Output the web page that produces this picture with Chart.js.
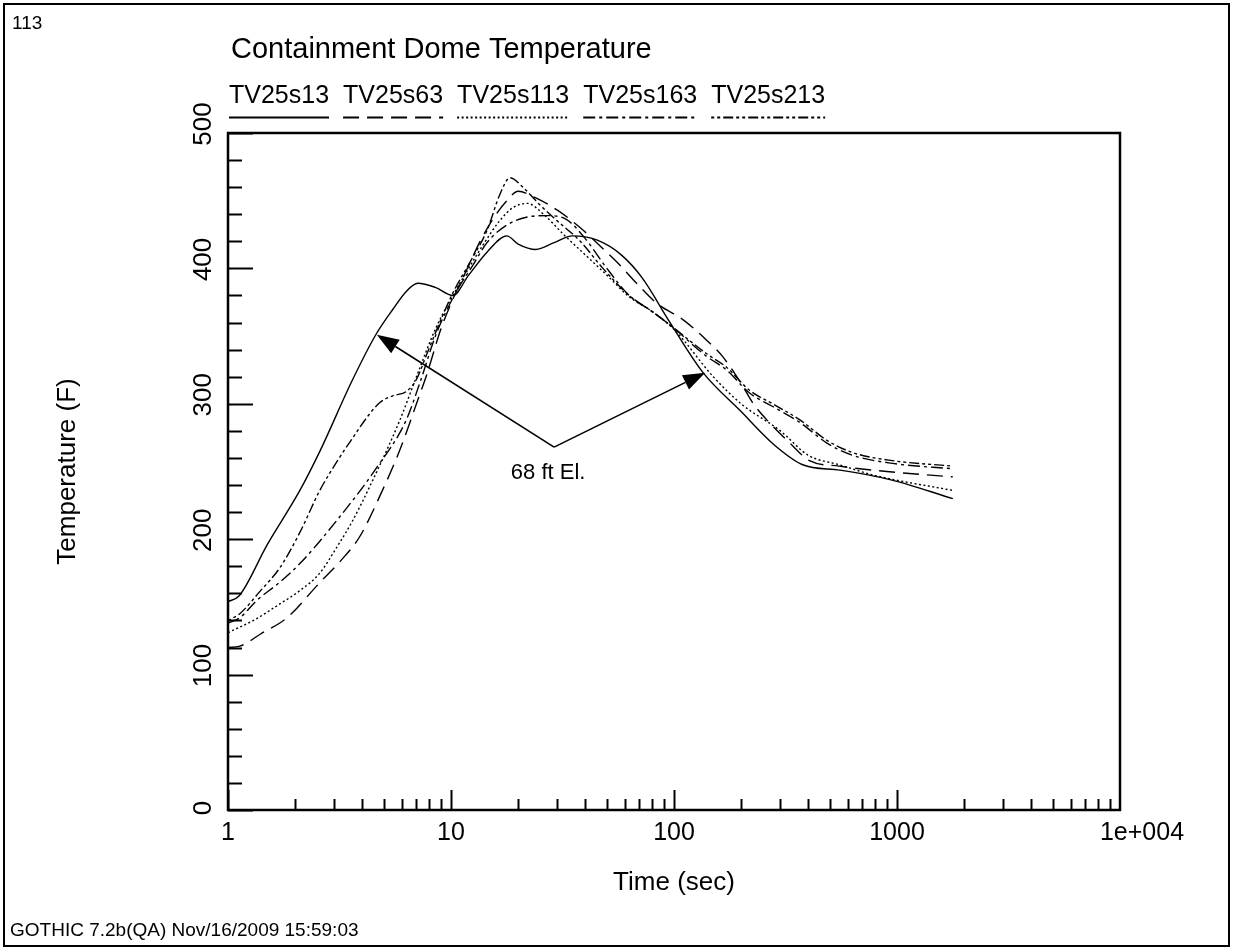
<!DOCTYPE html>
<html>
<head>
<meta charset="utf-8">
<script src="https://cdn.jsdelivr.net/npm/chart.js@4.4.1/dist/chart.umd.min.js"></script>
<style>
  html, body { margin: 0; padding: 0; background: #fff; }
  #wrap { width: 1233px; height: 950px; position: relative; }
</style>
</head>
<body>
<div id="wrap"><canvas id="domeChart" width="1233" height="950"></canvas></div>
<script>
// Containment dome temperature, 5 stations
const seriesNames = ['TV25s13', 'TV25s63', 'TV25s113', 'TV25s163', 'TV25s213'];

const s13Time = [1, 1.12, 1.5, 2.1, 2.6, 3.6, 4.6, 5.5, 6.3, 7.1, 8.5, 10.2, 12, 14.5, 17.8, 20, 24, 29, 35, 45, 58, 72, 96, 135, 198, 280, 378, 555, 931, 1780];
const s13Temp = [154, 158, 196, 236, 266, 317, 351, 370, 383, 389, 386, 380, 395, 412, 424, 418, 414, 419, 424, 421, 410, 393, 360, 323, 295, 270, 255, 251, 244, 230];

const s63Time = [1, 1.13, 1.4, 1.84, 2.58, 3.2, 3.9, 4.8, 5.9, 7.0, 7.8, 9, 10.5, 12, 13.5, 15.5, 17.8, 20, 24, 30, 38, 47, 56, 68, 84, 110, 140, 165, 200, 227, 268, 331, 405, 550, 900, 1780];
const s63Temp = [120, 121, 130, 142, 168, 184, 202, 232, 266, 300, 322, 355, 382, 402, 420, 437, 450, 457, 452, 443, 430, 416, 404, 389, 374, 362, 347, 335, 315, 300, 286, 271, 258, 254, 250, 246];

const s113Time = [1, 1.3, 1.7, 2.1, 2.58, 3.1, 3.63, 4.47, 5.9, 7, 8.5, 10.2, 12, 14, 16.5, 19, 22, 26, 32, 40, 50, 63, 80, 100, 150, 200, 300, 400, 550, 800, 1780];
const s113Temp = [131, 140, 152, 162, 175, 195, 214, 244, 288, 320, 355, 380, 400, 418, 435, 445, 448, 440, 425, 410, 395, 379, 368, 355, 320, 300, 280, 262, 255, 247, 236];

const s163Time = [1, 1.13, 1.35, 1.7, 2.1, 3.08, 4.65, 6.3, 7.3, 8.6, 10.5, 12.5, 14.5, 17.8, 22, 27, 33, 40, 50, 63, 80, 98, 140, 172, 218, 277, 368, 485, 632, 955, 1780];
const s163Temp = [138, 142, 155, 168, 182, 214, 253, 288, 317, 352, 382, 402, 419, 432, 438, 439, 436, 422, 400, 380, 368, 357, 335, 325, 308, 298, 286, 271, 262, 256, 252];

const s213Time = [1, 1.13, 1.4, 1.71, 2.1, 2.58, 3.1, 3.63, 4.2, 4.8, 5.5, 6.3, 7.0, 7.8, 9, 10.2, 12.5, 14.5, 16.6, 18.4, 21, 25, 30, 38, 48, 63, 80, 98, 140, 172, 218, 277, 368, 485, 632, 955, 1780];
const s213Temp = [140, 145, 162, 179, 205, 236, 258, 275, 290, 301, 306, 309, 318, 337, 362, 382, 408, 428, 455, 467, 460, 447, 435, 420, 400, 380, 368, 357, 337, 327, 310, 300, 288, 273, 264, 258, 254];

// axes
const xTicks = [1, 10, 100, 1000, 10000];
const xTickLabels = ['1', '10', '100', '1000', '1e+004'];
const yTicks = [0, 100, 200, 300, 400, 500];

// annotation: "68 ft El." with two arrows (data units)
const noteText = '68 ft El.';
const noteFrom = { x: 29, y: 268 };
const noteTargets = [{ x: 4.65, y: 351 }, { x: 138, y: 323 }];

const dashes = [[], [16, 8], [2, 2.5], [12, 4, 3, 4], [3, 3, 3, 3, 10, 3]];

function pts(ts, vs) {
    return ts.map((t, i) => ({ x: t, y: vs[i] }));
}

const allData = [
    pts(s13Time, s13Temp),
    pts(s63Time, s63Temp),
    pts(s113Time, s113Temp),
    pts(s163Time, s163Temp),
    pts(s213Time, s213Temp)
];

const FONT = '"Liberation Sans", Arial, sans-serif';

// draws frame, axes, ticks, texts, legend, arrows
const decorPlugin = {
    id: 'decor',
    beforeDraw(chart) {
        const c = chart.ctx;
        c.save();
        c.fillStyle = '#fff';
        c.fillRect(0, 0, chart.width, chart.height);
        c.restore();
    },
    afterDraw(chart) {
        const c = chart.ctx;
        const a = chart.chartArea;
        const xs = chart.scales.x, ys = chart.scales.y;
        c.save();
        c.strokeStyle = '#000';
        c.fillStyle = '#000';

        // outer frame
        c.lineWidth = 2;
        c.strokeRect(4, 4, 1225, 942);

        // plot box
        c.lineWidth = 2.5;
        c.strokeRect(a.left, a.top, a.right - a.left, a.bottom - a.top);

        // y ticks (inside)
        c.lineWidth = 2;
        for (let v = 0; v <= 500; v += 20) {
            const py = Math.round(ys.getPixelForValue(v)) + 0.5;
            const len = (v % 100 === 0) ? 25 : 14;
            c.beginPath();
            c.moveTo(a.left, py);
            c.lineTo(a.left + len, py);
            c.stroke();
        }
        // x ticks (inside)
        for (let d = 1; d < 10000; d *= 10) {
            for (let k = 1; k <= 9; k++) {
                const v = d * k;
                const px = Math.round(xs.getPixelForValue(v)) + 0.5;
                const len = (k === 1) ? 20 : 11;
                c.beginPath();
                c.moveTo(px, a.bottom);
                c.lineTo(px, a.bottom - len);
                c.stroke();
            }
        }

        // y tick labels, rotated
        c.font = '26px ' + FONT;
        c.textAlign = 'center';
        c.textBaseline = 'middle';
        yTicks.forEach(v => {
            const py = ys.getPixelForValue(v);
            c.save();
            c.translate(204, v === 0 ? py - 2 : py - 9);
            c.rotate(-Math.PI / 2);
            c.fillText(String(v), 0, 0);
            c.restore();
        });

        // x tick labels
        c.font = '25px ' + FONT;
        c.textBaseline = 'middle';
        xTicks.forEach((v, i) => {
            let px = xs.getPixelForValue(v);
            if (i === xTicks.length - 1) px += 22;
            c.fillText(xTickLabels[i], px, 833);
        });

        // axis titles
        c.font = '26px ' + FONT;
        c.fillText('Time (sec)', (a.left + a.right) / 2, 883);
        c.save();
        c.translate(68, (a.top + a.bottom) / 2);
        c.rotate(-Math.PI / 2);
        c.fillText('Temperature (F)', 0, 0);
        c.restore();

        // top texts
        c.textAlign = 'left';
        c.font = '19px ' + FONT;
        c.fillText('113', 12, 24);
        c.font = '29px ' + FONT;
        c.fillText('Containment Dome Temperature', 231, 50);
        c.font = '19px ' + FONT;
        c.fillText('GOTHIC 7.2b(QA) Nov/16/2009 15:59:03', 10, 931);

        // legend: label above a line sample
        c.font = '25px ' + FONT;
        let lx = 229;
        seriesNames.forEach((name, i) => {
            const w = c.measureText(name).width;
            c.fillText(name, lx, 96);
            c.save();
            c.lineWidth = 2;
            c.setLineDash(dashes[i]);
            c.beginPath();
            c.moveTo(lx, 117.5);
            c.lineTo(lx + w, 117.5);
            c.stroke();
            c.restore();
            lx += w + 14;
        });

        // annotation arrows
        const fx = xs.getPixelForValue(noteFrom.x), fy = ys.getPixelForValue(noteFrom.y);
        c.lineWidth = 1.6;
        noteTargets.forEach(t => {
            const tx = xs.getPixelForValue(t.x), ty = ys.getPixelForValue(t.y);
            const ang = Math.atan2(ty - fy, tx - fx);
            const hl = 22, hw = 8;
            const bx = tx - hl * Math.cos(ang), by = ty - hl * Math.sin(ang);
            c.beginPath();
            c.moveTo(fx, fy);
            c.lineTo(bx, by);
            c.stroke();
            c.beginPath();
            c.moveTo(tx, ty);
            c.lineTo(bx + hw * Math.sin(ang), by - hw * Math.cos(ang));
            c.lineTo(bx - hw * Math.sin(ang), by + hw * Math.cos(ang));
            c.closePath();
            c.fill();
        });
        c.font = '22px ' + FONT;
        c.textAlign = 'center';
        c.fillText(noteText, fx - 6, fy + 26);

        c.restore();
    }
};

new Chart(document.getElementById('domeChart'), {
    type: 'line',
    data: {
        datasets: allData.map((d, i) => ({
            label: seriesNames[i],
            data: d,
            borderColor: '#000',
            borderWidth: 1.4,
            borderDash: dashes[i],
            pointRadius: 0,
            fill: false,
            cubicInterpolationMode: 'monotone'
        }))
    },
    options: {
        responsive: false,
        animation: false,
        devicePixelRatio: 1,
        layout: { padding: { left: 228, top: 133, right: 113, bottom: 140 } },
        plugins: { legend: { display: false }, tooltip: { enabled: false } },
        scales: {
            x: { type: 'logarithmic', min: 1, max: 10000, display: false },
            y: { type: 'linear', min: 0, max: 500, display: false }
        }
    },
    plugins: [decorPlugin]
});
</script>
</body>
</html>
